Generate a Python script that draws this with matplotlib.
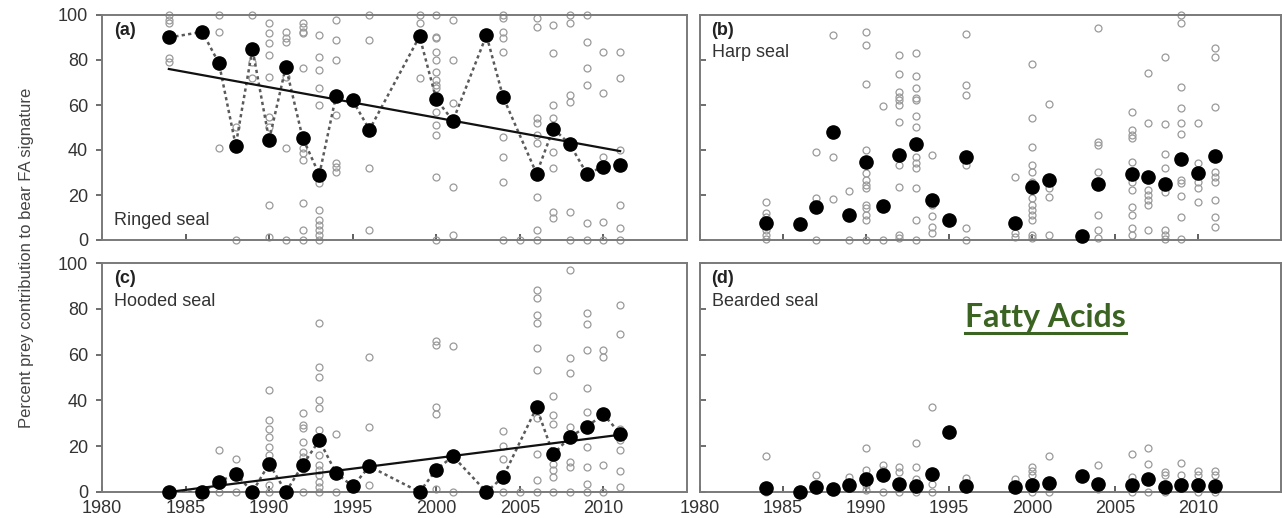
import numpy as np
import matplotlib
matplotlib.use('Agg')
import matplotlib.pyplot as plt
from matplotlib.lines import Line2D

plt.rcParams['font.family'] = ['Liberation Sans', 'DejaVu Sans']

# sampling years with a yearly mean (same in all four panels)
years = [1984, 1986, 1987, 1988, 1989, 1990, 1991, 1992, 1993, 1994, 1995, 1996,
         1999, 2000, 2001, 2003, 2004, 2006, 2007, 2008, 2009, 2010, 2011]

# yearly means (black dots)
ringed_mean = [90, 92.5, 78.5, 42, 85, 44.5, 77, 45.5, 29, 64, 62, 49,
               90.5, 62.5, 53, 91, 63.5, 29.5, 49.5, 42.5, 29.5, 32.5, 33.5]
harp_mean = [7.5, 7, 14.5, 48, 11, 34.5, 15, 38, 42.5, 18, 9, 37,
             7.5, 23.5, 26.5, 2, 25, 29.5, 28, 25, 36, 30, 37.5]
hooded_mean = [0, 0, 4.4, 8, 0, 12.4, 0, 11.7, 22.6, 8.3, 2.5, 11.2,
               0, 9.8, 15.6, 0, 6.6, 36.9, 16.4, 24.1, 28.5, 33.9, 25.5]
bearded_mean = [1.9, 0, 2.2, 1.2, 3.2, 5.8, 7.3, 3.6, 2.6, 8, 26.3, 2.6,
                2.2, 3.2, 4.1, 7, 3.6, 2.9, 5.5, 2.2, 2.9, 3.2, 2.6]

# regression lines (start / end)
trend_years = [1984, 2011]
ringed_trend = [76, 39.5]
hooded_trend = [0, 25]

# individual bears (open circles), year -> values
ringed_obs = {
    1984: [100, 97.8, 96.3, 80.7, 79.3],
    1987: [100, 92.6, 40.7],
    1988: [0, 50.4],
    1989: [100, 79.3, 71.9],
    1990: [96.3, 91.9, 87.4, 82.2, 72.6, 54.8, 50.4, 15.6, 1.5],
    1991: [92.6, 89.6, 88.1, 72.3, 40.7, 0],
    1992: [96.3, 94.8, 92.6, 91.9, 76.3, 40.7, 38.5, 35.6, 16.3, 4.4, 0],
    1993: [91.1, 81.5, 75.6, 67.4, 60, 25.2, 13.3, 8.9, 6.7, 4.4, 2.2, 0],
    1994: [97.8, 88.9, 80, 55.6, 34.1, 32.6, 30.4],
    1996: [100, 88.9, 31.9, 4.4],
    1999: [100, 96.6, 71.9],
    2000: [100, 90.4, 89.6, 83.7, 80, 74.8, 71.1, 68.9, 67.4, 57, 51.1, 46.7, 28.1, 0],
    2001: [97.8, 80, 60.7, 23.7, 2.2],
    2004: [100, 98.5, 92.6, 89.6, 83.7, 45.9, 37, 25.9, 0],
    2005: [0],
    2006: [98.5, 94.8, 54.1, 51.9, 46.7, 43, 19.3, 4.4, 0],
    2007: [95.6, 83, 60, 54.1, 39.3, 31.9, 12.6, 9.6],
    2008: [100, 96.3, 64.4, 61.5, 12.6, 0],
    2009: [100, 88.1, 76.3, 68.9, 7.4, 0],
    2010: [83.7, 65.2, 37, 8.1, 0],
    2011: [83.7, 71.9, 40, 15.6, 5.2, 0],
}
harp_obs = {
    1984: [17, 11.9, 10.4, 4.4, 2.2, 0.3],
    1987: [39.3, 18.5, 0],
    1988: [91.1, 37, 18.2],
    1989: [21.9, 0],
    1990: [92.6, 86.7, 69.3, 40, 29.6, 26.7, 24.4, 23, 15.6, 14.1, 11.1, 8.9, 0],
    1991: [59.6, 0],
    1992: [82.2, 73.8, 65.9, 63.7, 62.2, 60, 52.6, 33.3, 23.7, 2.2, 0.7],
    1993: [83.3, 72.9, 67.4, 63, 62.2, 55.1, 50.1, 37, 34.1, 31.9, 23, 8.9, 0],
    1994: [37.8, 15.6, 10.7, 5.9, 3],
    1996: [91.6, 68.9, 64.4, 33.3, 5.2, 0],
    1999: [28.1, 3, 1.2],
    2000: [78.2, 54.1, 41.5, 33.3, 30.4, 25.9, 18.5, 15.6, 13.3, 11.1, 8.9, 2.2, 0.7],
    2001: [60.4, 27.4, 23, 19, 2.2],
    2004: [94, 43.7, 42.2, 30.4, 11.1, 4.4, 0.7],
    2006: [57, 48.9, 46.7, 45.2, 34.8, 25.9, 22.2, 14.8, 11.1, 5.2, 2.2],
    2007: [74.4, 51.9, 22.2, 20, 17.8, 15.6, 4.4],
    2008: [81.2, 51.6, 38.2, 31.9, 21.5, 4.4, 2.2, 0.3],
    2009: [100, 96.3, 68.1, 58.5, 51.9, 47.1, 26.7, 25.2, 19.6, 10.1, 0.3],
    2010: [51.9, 34.1, 25.9, 23, 17],
    2011: [85.2, 81.5, 59, 30.4, 28.1, 25.9, 17.8, 10.1, 5.9],
}
hooded_obs = {
    1987: [18.2, 0],
    1988: [14.3, 0],
    1989: [0],
    1990: [44.5, 31.4, 27.7, 24.1, 19.7, 16.1, 2.9, 0],
    1991: [0],
    1992: [34.3, 29.2, 28, 21.9, 17.5, 15.3, 10.2, 0],
    1993: [73.7, 54.7, 50.4, 40.1, 36.5, 27, 16.1, 11.7, 9.5, 7.3, 4.4, 2.2, 0],
    1994: [25.5, 0],
    1996: [59.1, 28.5, 2.9],
    2000: [66, 64.2, 37.2, 33.9, 1.5],
    2001: [63.9, 0],
    2004: [26.6, 20.1, 14.3, 0],
    2005: [0],
    2006: [88.3, 84.7, 77.4, 73.7, 62.8, 53.3, 32.1, 16.8, 5.1, 0],
    2007: [42, 33.6, 29.9, 12.4, 9.5, 6.6, 0],
    2008: [97.1, 58.7, 51.8, 28.5, 13.1, 10.9, 0],
    2009: [78.1, 73.3, 62, 45.3, 35, 19.7, 10.9, 3.6, 0],
    2010: [62, 59.1, 11.7, 0],
    2011: [81.5, 68.9, 27.7, 22.6, 18.2, 9.1, 2.2],
}
bearded_obs = {
    1984: [15.8, 0],
    1987: [7.3],
    1989: [6.6],
    1990: [19.3, 9.5, 6.6, 2.9, 0.7],
    1991: [11.7, 9.5, 0],
    1992: [10.9, 8.8, 0],
    1993: [21.2, 10.9, 5.8, 0],
    1994: [37.2, 3.6, 0],
    1996: [6.1],
    1999: [5.5],
    2000: [10.9, 9.1, 7.3, 0],
    2001: [15.8, 0],
    2004: [11.7, 1.5],
    2006: [16.4, 6.6, 0],
    2007: [19.3, 12.4, 0],
    2008: [8.8, 7.3, 0],
    2009: [12.8, 7.3],
    2010: [9.1, 7.6, 0],
    2011: [9.1, 7.6, 0],
}

panels = [
    ('(a)', 'Ringed seal', ringed_mean, ringed_obs, ringed_trend, True),
    ('(b)', 'Harp seal', harp_mean, harp_obs, None, False),
    ('(c)', 'Hooded seal', hooded_mean, hooded_obs, hooded_trend, True),
    ('(d)', 'Bearded seal', bearded_mean, bearded_obs, None, False),
]

W, H = 1282, 518
fig = plt.figure(figsize=(W / 100, H / 100), dpi=100)
# axes boxes in pixels: left, top, right, bottom
boxes = [(102, 15, 687, 240), (700, 15, 1281, 240),
         (102, 263, 687, 492), (700, 263, 1281, 492)]

spine_col = '#7a7a7a'
txt_col = '#333333'

for i, (tag, name, means, obs, trend, connect) in enumerate(panels):
    l, t, r, b = boxes[i]
    ax = fig.add_axes([l / W, 1 - b / H, (r - l) / W, (b - t) / H])
    ax.set_xlim(1980, 2015)
    ax.set_ylim(0, 100)

    # open circles for individuals
    ox = [y for y, vals in obs.items() for v in vals]
    oy = [v for y, vals in obs.items() for v in vals]
    ax.plot(ox, oy, 'o', mfc='none', mec='#9a9a9a', ms=5, mew=0.9,
            ls='none', clip_on=False, zorder=2)

    if connect:
        ax.plot(years, means, color='#5a5a5a', lw=1.8, ls=(0, (1.3, 1.3)),
                zorder=3)
    if trend is not None:
        ax.plot(trend_years, trend, color='#111111', lw=1.6, zorder=4)

    ax.plot(years, means, 'o', color='black', ms=9.5, ls='none',
            clip_on=False, zorder=5)

    for s in ax.spines.values():
        s.set_color(spine_col)
        s.set_linewidth(1.4)

    ax.set_xticks(range(1980, 2011, 5))
    ax.set_yticks(range(0, 101, 20))
    ax.tick_params(axis='x', direction='in', length=4, width=1.2,
                   color='#444444', labelsize=13, labelcolor=txt_col, pad=6)
    ax.tick_params(axis='y', direction='in' if i % 2 else 'out', length=4,
                   width=1.2, color='#555555', labelsize=13,
                   labelcolor=txt_col, pad=6)
    if i < 2:
        ax.tick_params(axis='x', labelbottom=False)
    if i % 2:
        ax.tick_params(axis='y', labelleft=False)

    ax.text(0.02, 0.97, tag, transform=ax.transAxes, fontsize=13,
            fontweight='bold', color='#222222', va='top', ha='left')
    if i == 0:
        ax.text(0.02, 0.05, name, transform=ax.transAxes, fontsize=13,
                color='#333333', va='bottom', ha='left')
    else:
        ax.text(0.02, 0.87, name, transform=ax.transAxes, fontsize=13,
                color='#333333', va='top', ha='left')

fig.text(27 / W, 1 - 258 / H, 'Percent prey contribution to bear FA signature',
         rotation=90, va='center', ha='center', fontsize=12, color='#444444')

# title-like annotation, underlined
fa = fig.text(965 / W, 1 - 327 / H, 'Fatty Acids', family='Lato',
              fontweight='bold', fontsize=23, color='#3b6321',
              ha='left', va='baseline')
fig.canvas.draw()
bb = fa.get_window_extent().transformed(fig.transFigure.inverted())
uy = 1 - 333 / H
fig.add_artist(Line2D([bb.x0, bb.x1], [uy, uy], transform=fig.transFigure,
                      color='#3b6321', lw=2.2))

fig.savefig('out.png', dpi=100)
